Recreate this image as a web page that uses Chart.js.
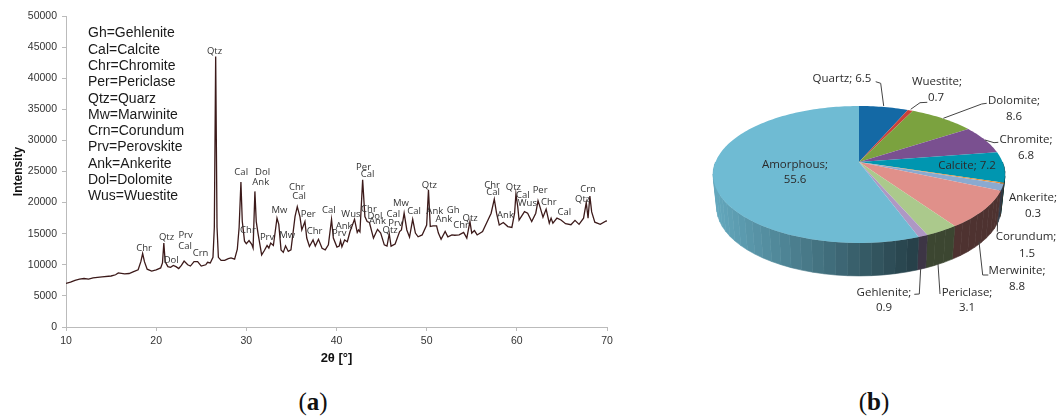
<!DOCTYPE html>
<html>
<head>
<meta charset="utf-8">
<title>XRD pattern and phase composition</title>
<script src="https://cdn.jsdelivr.net/npm/chart.js@4"></script>
<style>
html, body { margin: 0; padding: 0; background: #fff; }
body { position: relative; width: 1057px; height: 417px; overflow: hidden; }
canvas { position: absolute; top: 0; }
#xrdChart { left: 0; }
#pieChart { left: 640px; }
.caption { position: absolute; top: 388px; font: 25px "Liberation Serif", serif; color: #111; transform: translateX(-50%); }
.caption b { font-weight: bold; }
</style>
</head>
<body>
<canvas id="xrdChart" width="640" height="380"></canvas>
<canvas id="pieChart" width="417" height="380"></canvas>
<div class="caption" style="left:313px">(<b>a</b>)</div>
<div class="caption" style="left:874px">(<b>b</b>)</div>
<script>
// XRD trace
const twoTheta = [10, 10.5, 11, 11.5, 12, 12.5, 13, 14, 15, 15.5, 15.8, 16.5, 17, 17.5, 18, 18.3, 18.5, 18.7, 19, 19.5,
    20, 20.5, 20.7, 20.85, 21, 21.3, 21.6, 21.9, 22.2, 22.5, 22.8, 23.1, 23.5, 23.8, 24.2, 24.6, 25, 25.5, 25.7, 26,
    26.3, 26.45, 26.6, 26.75, 26.9, 27.2, 27.6, 28, 28.3, 28.7, 29, 29.2, 29.4, 29.55, 29.8, 30, 30.3, 30.6, 30.75, 30.95,
    31.1, 31.3, 31.7, 32, 32.3, 32.5, 32.7, 33, 33.4, 33.6, 33.85, 34.1, 34.35, 34.65, 34.95, 35.4, 35.65, 35.95, 36.15, 36.5,
    36.7, 37, 37.4, 37.65, 38, 38.4, 38.75, 39.1, 39.45, 39.65, 40.05, 40.3, 40.45, 40.6, 40.9, 41.2, 41.5, 42, 42.3, 42.45,
    42.6, 42.9, 43.15, 43.4, 43.65, 44.1, 44.55, 44.9, 45.3, 45.6, 45.85, 46.05, 46.5, 47, 47.2, 47.5, 47.8, 48.1, 48.45, 48.75,
    49.05, 49.5, 50, 50.2, 50.4, 50.7, 51.1, 51.3, 51.6, 52.05, 52.35, 52.8, 53.1, 53.6, 54.1, 54.45, 54.8, 55, 55.3, 55.6,
    56.2, 56.8, 57.15, 57.5, 57.75, 58.05, 58.5, 59, 59.45, 59.75, 59.9, 60.1, 60.25, 60.85, 61.2, 61.65, 62.1, 62.35, 62.6, 62.9,
    63.25, 63.6, 63.8, 64, 64.45, 64.9, 65.4, 66, 66.45, 66.9, 67.4, 67.7, 67.9, 68.1, 68.3, 68.65, 69.25, 69.9, 70];
const intensity = [7000, 7200, 7500, 7700, 7800, 7700, 7900, 8050, 8200, 8400, 8700, 8550, 8600, 8900, 9200, 10500, 11800, 10500, 9300, 9000,
    9200, 9500, 10300, 13500, 10500, 9700, 9600, 9900, 9700, 9400, 9900, 10600, 10000, 9800, 10500, 10500, 9800, 10000, 10400, 10300,
    11200, 16000, 43500, 16000, 11200, 10700, 10700, 11000, 11100, 10900, 12500, 16000, 23300, 17000, 13800, 13400, 13900, 13300, 12700, 21800,
    16950, 15000, 11600, 12300, 13100, 12700, 13500, 13100, 17500, 16500, 12400, 12000, 13050, 12150, 12400, 17750, 19350, 17700, 15600, 16950,
    14300, 12950, 14000, 13000, 14100, 12650, 12400, 13200, 17300, 14300, 12850, 13000, 13900, 12900, 14000, 13700, 15350, 17300, 15200, 15600,
    15300, 23650, 17750, 16950, 16800, 14300, 15700, 15100, 13200, 13000, 15000, 13000, 13350, 15350, 15600, 18300, 15600, 14450, 17300, 15100,
    14500, 14800, 16400, 22050, 16150, 16250, 16250, 15100, 14100, 15350, 14500, 14800, 14750, 14800, 15200, 14300, 16950, 15100, 15500, 14800,
    15350, 17200, 18300, 20550, 18300, 16400, 16800, 16150, 16000, 18300, 21400, 19350, 17200, 18550, 18300, 16950, 18300, 20300, 19150, 17650,
    18950, 16700, 17500, 16700, 17500, 17200, 16600, 16450, 17150, 16500, 17500, 20000, 17500, 21050, 18500, 16850, 16500, 17050, 17000];

const yTicks = [0, 5000, 10000, 15000, 20000, 25000, 30000, 35000, 40000, 45000, 50000];
const xTicks = [10, 20, 30, 40, 50, 60, 70];

// peak annotations, in axis units
const peakNames = ['Chr', 'Qtz', 'Dol', 'Prv', 'Cal', 'Crn', 'Qtz', 'Cal', 'Dol', 'Ank', 'Chr', 'Prv', 'Mw', 'Mw',
    'Chr', 'Cal', 'Per', 'Chr', 'Cal', 'Prv', 'Ank', 'Wus', 'Per', 'Cal', 'Chr', 'Dol', 'Ank', 'Qtz', 'Cal', 'Prv', 'Mw',
    'Cal', 'Qtz', 'Ank', 'Ank', 'Gh', 'Chr', 'Qtz', 'Chr', 'Cal', 'Ank', 'Qtz', 'Cal', 'Wus', 'Per', 'Chr', 'Cal', 'Qtz', 'Crn'];
const peakX = [18.65, 21.15, 21.67, 23.26, 23.2, 24.92, 26.47, 29.43, 31.8, 31.6, 30.18, 32.3, 33.68, 34.53,
    35.6, 35.86, 36.86, 37.56, 39.16, 40.3, 40.85, 41.6, 43, 43.44, 43.6, 44.26, 44.55, 45.95, 46.3, 46.54, 47.14,
    48.6, 50.3, 50.9, 51.9, 52.94, 53.82, 54.82, 57.26, 57.37, 58.74, 59.62, 60.66, 61.17, 62.58, 63.55, 65.28, 67.3, 67.9];
const peakY = [12680, 14380, 10800, 14700, 13000, 11880, 44300, 24815, 24815, 23275, 15500, 14490, 18830, 14770,
    22400, 20960, 18190, 15350, 18830, 15020, 16260, 18070, 25730, 24500, 18990, 17750, 17060, 15570, 18070, 16740, 19950,
    18560, 22840, 18560, 17340, 18830, 16420, 17500, 22840, 21600, 17980, 22470, 21190, 19900, 21990, 20110, 18460, 20590, 22150];

const phaseKey = ['Gh=Gehlenite', 'Cal=Calcite', 'Chr=Chromite', 'Per=Periclase', 'Qtz=Quarz', 'Mw=Marwinite',
    'Crn=Corundum', 'Prv=Perovskite', 'Ank=Ankerite', 'Dol=Dolomite', 'Wus=Wuestite'];

// pie
const phases = ['Quartz', 'Wuestite', 'Dolomite', 'Chromite', 'Calcite', 'Ankerite', 'Corundum', 'Merwinite', 'Periclase', 'Gehlenite', 'Amorphous'];
const phaseShare = [6.5, 0.7, 8.6, 6.8, 7.2, 0.3, 1.5, 8.8, 3.1, 0.9, 55.6];
const phaseColors = ['#1469a5', '#c9403a', '#7ba23f', '#7a5090', '#0096b0', '#e8913a', '#8aaad0', '#e0908a', '#abc98c', '#ae98c4', '#6fbbd3'];

const annotate = {
    id: 'annotate',
    afterDraw(chart) {
        const { ctx, scales } = chart;
        ctx.save();
        ctx.textAlign = 'center';
        ctx.textBaseline = 'middle';
        ctx.fillStyle = '#333';
        ctx.font = '9.5px "Open Sans"';
        peakNames.forEach((name, i) => {
            ctx.fillText(name, scales.x.getPixelForValue(peakX[i]), scales.y.getPixelForValue(peakY[i]));
        });
        ctx.textAlign = 'left';
        ctx.fillStyle = '#1a1a1a';
        ctx.font = '14px "Liberation Sans"';
        phaseKey.forEach((line, i) => ctx.fillText(line, 88, 33.5 + i * 16.3));
        ctx.restore();
    }
};

new Chart(document.getElementById('xrdChart'), {
    type: 'line',
    data: {
        datasets: [{
            data: twoTheta.map((t, i) => ({ x: t, y: intensity[i] })),
            borderColor: '#3c1a1a',
            borderWidth: 1.3,
            pointRadius: 0,
            tension: 0
        }]
    },
    options: {
        responsive: false,
        animation: false,
        layout: { padding: { top: 16, right: 33, left: 11, bottom: 10 } },
        plugins: { legend: { display: false }, tooltip: { enabled: false } },
        scales: {
            x: {
                type: 'linear', min: 10, max: 70,
                afterBuildTicks: s => { s.ticks = xTicks.map(v => ({ value: v })); },
                afterFit: s => { s.height = 43; },
                grid: { drawOnChartArea: false, tickLength: 4, color: '#bbb' },
                border: { color: '#bbb' },
                ticks: { color: '#333', font: { family: 'Liberation Sans', size: 10.5 }, padding: 4, maxRotation: 0 },
                title: { display: true, text: '2θ [°]', color: '#111', font: { family: 'Liberation Sans', size: 13, weight: 'bold' }, padding: { top: 6 } }
            },
            y: {
                min: 0, max: 50000,
                afterBuildTicks: s => { s.ticks = yTicks.map(v => ({ value: v })); },
                afterFit: s => { s.width = 55; },
                grid: { drawOnChartArea: false, tickLength: 4, color: '#bbb' },
                border: { color: '#bbb' },
                ticks: { color: '#333', font: { family: 'Liberation Sans', size: 10.5 }, padding: 5, callback: v => String(v) },
                title: { display: true, text: 'Intensity', color: '#111', font: { family: 'Liberation Sans', size: 12, weight: 'bold' }, padding: 0 }
            }
        }
    },
    plugins: [annotate]
});

// The source pie is a tilted 3D one, so the arcs' angles from the library are put through a perspective map
const PAGE_X = 640;
const persp = { cx: 859, apexY: 162, a: 36.7, c: -0.182, d: 143.5, depth: 33, shrink: 0.975 };

function rimPoint(angle, lower) {
    const u = Math.cos(angle), v = Math.sin(angle);
    const w = 1 + persp.c * v;
    const k = lower ? persp.shrink : 1;
    return {
        x: persp.cx + k * persp.d * u / w,
        y: (persp.a * v + persp.apexY) / w + (lower ? persp.depth : 0)
    };
}

function shade(hex, f) {
    const n = parseInt(hex.slice(1), 16);
    return `rgb(${Math.round((n >> 16) * f)},${Math.round(((n >> 8) & 255) * f)},${Math.round((n & 255) * f)})`;
}

const pieLabels = [
    { i: 0, lines: [[842, 79]], oneLine: true },
    { i: 1, lines: [[937, 82], [936, 98]] },
    { i: 2, lines: [[1014, 101], [1014, 117]] },
    { i: 3, lines: [[1026, 140], [1026, 156]] },
    { i: 4, lines: [[967, 166]], oneLine: true },
    { i: 5, lines: [[1033, 198], [1033, 214]] },
    { i: 6, lines: [[1026, 237], [1027, 254]] },
    { i: 7, lines: [[1017, 271], [1017, 287]] },
    { i: 8, lines: [[967, 293], [967, 308]] },
    { i: 9, lines: [[884, 293], [884, 308]] },
    { i: 10, lines: [[795, 165], [795, 180]] }
];
const leaders = [
    [[875.7, 81.7], [880.7, 83.3], [883.7, 106]],
    [[927.3, 102.3], [920, 102.7], [910.7, 109.3]],
    [[986.7, 103.3], [981.7, 104], [943.3, 118.3]],
    [[998.3, 142.3], [994, 142.7], [985, 140]],
    [[997.3, 231.7], [997.7, 218.3]],
    [[988.3, 275], [982.7, 275], [979, 241.7]],
    [[940, 294], [938, 264]],
    [[914.3, 294.3], [919.3, 294], [920.7, 268.3]]
];

const pie3d = {
    id: 'pie3d',
    beforeDatasetsDraw(chart) {
        const { ctx } = chart;
        const arcs = chart.getDatasetMeta(0).data;
        const step = Math.PI / 45;
        ctx.save();
        ctx.translate(-PAGE_X, 0);
        // side wall, front half only
        arcs.forEach((arc, i) => {
            for (let a = Math.max(arc.startAngle, 0); a < Math.min(arc.endAngle, Math.PI); a += step) {
                const b = Math.min(a + step, arc.endAngle, Math.PI);
                const p1 = rimPoint(a), p2 = rimPoint(b), q1 = rimPoint(a, true), q2 = rimPoint(b, true);
                const t = Math.min(1, Math.max(0, ((p1.x + p2.x) / 2 - 713) / 200));
                ctx.fillStyle = ctx.strokeStyle = shade(phaseColors[i], 0.9 - 0.55 * t);
                ctx.lineWidth = 0.6;
                ctx.beginPath();
                ctx.moveTo(p1.x, p1.y);
                ctx.lineTo(p2.x, p2.y);
                ctx.lineTo(q2.x, q2.y);
                ctx.lineTo(q1.x, q1.y);
                ctx.closePath();
                ctx.fill();
                ctx.stroke();
            }
        });
        // top face
        arcs.forEach((arc, i) => {
            ctx.fillStyle = phaseColors[i];
            ctx.beginPath();
            ctx.moveTo(persp.cx, persp.apexY);
            for (let a = arc.startAngle; a < arc.endAngle; a += step / 3) {
                const p = rimPoint(a);
                ctx.lineTo(p.x, p.y);
            }
            const end = rimPoint(arc.endAngle);
            ctx.lineTo(end.x, end.y);
            ctx.closePath();
            ctx.fill();
        });
        ctx.restore();
        return false;
    },
    afterDraw(chart) {
        const { ctx } = chart;
        ctx.save();
        ctx.translate(-PAGE_X, 0);
        ctx.strokeStyle = '#444';
        ctx.lineWidth = 1;
        leaders.forEach(path => {
            ctx.beginPath();
            path.forEach(([x, y], k) => (k ? ctx.lineTo(x, y) : ctx.moveTo(x, y)));
            ctx.stroke();
        });
        ctx.font = '11.5px "Open Sans"';
        ctx.textAlign = 'center';
        ctx.textBaseline = 'middle';
        ctx.fillStyle = '#2b2b2b';
        pieLabels.forEach(l => {
            const name = phases[l.i], val = phaseShare[l.i].toFixed(1);
            if (l.oneLine) {
                ctx.fillText(`${name}; ${val}`, l.lines[0][0], l.lines[0][1]);
            } else {
                ctx.fillText(`${name};`, l.lines[0][0], l.lines[0][1]);
                ctx.fillText(val, l.lines[1][0], l.lines[1][1]);
            }
        });
        ctx.restore();
    }
};

new Chart(document.getElementById('pieChart'), {
    type: 'pie',
    data: {
        labels: phases,
        datasets: [{ data: phaseShare, backgroundColor: phaseColors, borderWidth: 0 }]
    },
    options: {
        responsive: false,
        animation: false,
        plugins: { legend: { display: false }, tooltip: { enabled: false } }
    },
    plugins: [pie3d]
});
</script>
</body>
</html>
